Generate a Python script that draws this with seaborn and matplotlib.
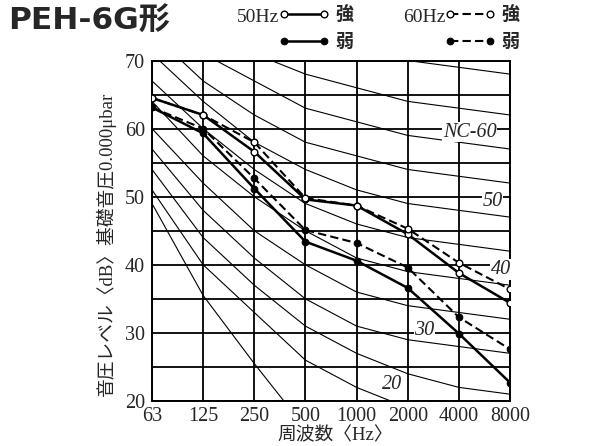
import numpy as np
import seaborn as sns
import matplotlib.pyplot as plt

freqs = ["63", "125", "250", "500", "1000", "2000", "4000", "8000"]
pos = np.arange(len(freqs))

# measured series (dB)
strong_50 = [64.5, 62.0, 56.6, 49.6, 48.7, 44.5, 38.8, 34.4]
weak_50 = [63.1, 59.3, 51.2, 43.4, 40.6, 36.6, 29.9, 22.7]
strong_60 = [64.5, 62.0, 58.0, 49.8, 48.7, 45.3, 40.3, 36.4]
weak_60 = [63.1, 60.0, 52.7, 45.1, 43.2, 39.6, 32.3, 27.6]

# NC curves in the background
nc_curves = {
    15: [49, 35.5, 25.5, 16, 12, 9, 7, 6],
    20: [51, 40, 33, 26, 22, 19, 17, 16],
    25: [54, 44, 37, 31, 27, 24, 22, 21],
    30: [57, 48, 41, 35, 31, 29, 28, 27],
    35: [60, 52, 45, 40, 36, 34, 33, 32],
    40: [64, 56, 50, 45, 41, 39, 38, 37],
    45: [67, 60, 54, 49, 46, 44, 43, 42],
    50: [71, 64, 58, 54, 51, 49, 48, 47],
    55: [74, 67, 62, 58, 56, 54, 53, 52],
    60: [77, 71, 67, 63, 61, 59, 58, 57],
    65: [80, 75, 71, 68, 66, 64, 63, 62],
    70: [83, 79, 75, 72, 71, 70, 69, 68],
}
nc_labels = ["NC-60", "50", "40", "30", "20"]
nc_label_xy = [(6.21, 59.5), (6.66, 49.3), (6.82, 39.3), (5.33, 30.4), (4.69, 22.4)]

sns.set_style("white")
plt.rcParams["font.family"] = ["Liberation Serif", "Noto Sans CJK JP"]
plt.rcParams["axes.unicode_minus"] = False

fig = plt.figure(figsize=(6.16, 4.46), dpi=100)
ax = fig.add_axes([152 / 616, 1 - 401 / 446, 358 / 616, 340.5 / 446])

for lvl, vals in nc_curves.items():
    sns.lineplot(x=pos, y=vals, ax=ax, color="black", linewidth=0.8, zorder=2)

sns.lineplot(x=pos, y=strong_50, ax=ax, color="black", linewidth=1.8,
             marker="o", markersize=4.8, markerfacecolor="white",
             markeredgecolor="black", markeredgewidth=1, zorder=5)
h_s50 = ax.lines[-1]
sns.lineplot(x=pos, y=weak_50, ax=ax, color="black", linewidth=1.8,
             marker="o", markersize=4.8, markerfacecolor="black",
             markeredgecolor="black", zorder=5)
h_w50 = ax.lines[-1]
sns.lineplot(x=pos, y=strong_60, ax=ax, color="black", linewidth=1.5,
             linestyle=(0, (4, 2)), marker="o", markersize=4.8,
             markerfacecolor="white", markeredgecolor="black",
             markeredgewidth=1, zorder=6)
h_s60 = ax.lines[-1]
sns.lineplot(x=pos, y=weak_60, ax=ax, color="black", linewidth=1.5,
             linestyle=(0, (4, 2)), marker="o", markersize=4.8,
             markerfacecolor="black", markeredgecolor="black", zorder=6)
h_w60 = ax.lines[-1]

ax.set_xlim(0, 7)
ax.set_ylim(20, 70)
ax.set_xticks(pos)
ax.set_xticklabels(freqs)
ax.set_yticks(np.arange(20, 71, 10))
ax.set_yticks(np.arange(25, 70, 10), minor=True)
ax.grid(True, which="both", color="black", linewidth=1.3, zorder=1)
ax.set_axisbelow(True)
for s in ax.spines.values():
    s.set_color("black")
    s.set_linewidth(1.4)
ax.tick_params(axis="both", which="major", labelsize=14.5, length=4,
               width=1.2, color="black", pad=1, direction="out")
ax.tick_params(axis="y", which="minor", length=0)
ax.tick_params(axis="x", length=3)

for txt, (x, y) in zip(nc_labels, nc_label_xy):
    ax.text(x, y, txt, ha="center", va="center", fontsize=14.5,
            style="italic", family="Liberation Serif", zorder=4,
            bbox=dict(facecolor="white", edgecolor="none", pad=0.5))

ax.set_ylabel("音圧レベル〈dB〉基礎音圧0.000μbar", fontsize=13.5)
ax.yaxis.set_label_coords(-0.1, 0.46)
ax.set_xlabel("周波数〈Hz〉", fontsize=13.5)
ax.xaxis.set_label_coords(0.513, -0.077)

fig.text(8 / 616, 1 - 21 / 446, "PEH-6G形", fontsize=22.5, weight="bold",
         family=["DejaVu Sans", "Noto Sans CJK JP"], va="center", ha="left")
fig.text(279 / 616, 1 - 17 / 446, "50Hz", fontsize=14, va="center", ha="right")
fig.text(445 / 616, 1 - 17 / 446, "60Hz", fontsize=14, va="center", ha="right")

leg_kw = dict(loc="upper left", frameon=False, numpoints=2, handlelength=2.8,
              handletextpad=0.3, labelspacing=0.45, borderpad=0, borderaxespad=0,
              prop={"family": "Noto Sans CJK JP", "size": 13, "weight": "bold"})
fig.legend([h_s50, h_w50], ["強", "弱"], bbox_to_anchor=(279 / 616, 1 - 5 / 446), **leg_kw)
fig.legend([h_s60, h_w60], ["強", "弱"], bbox_to_anchor=(445 / 616, 1 - 5 / 446), **leg_kw)

fig.savefig("out.png", dpi=100)
